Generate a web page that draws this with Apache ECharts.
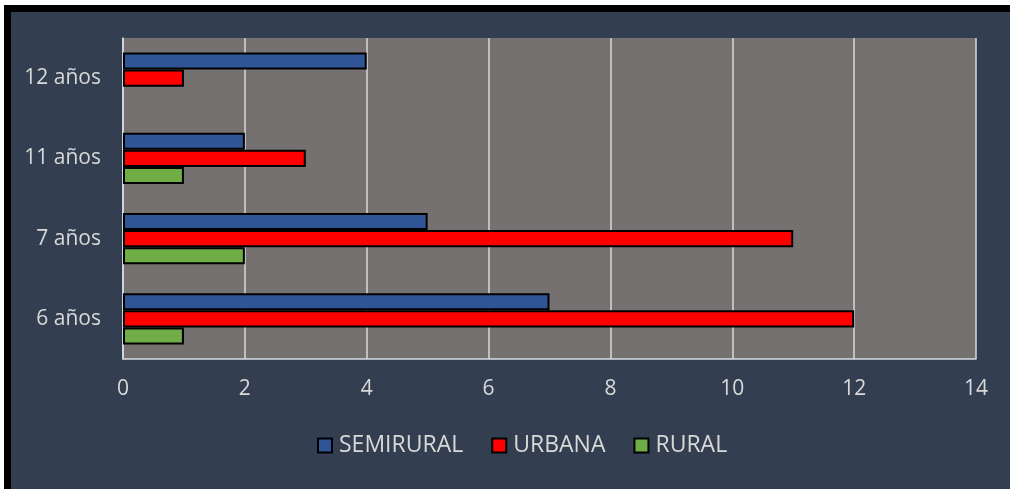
<!DOCTYPE html>
<html>
<head>
<meta charset="utf-8">
<script src="https://cdn.jsdelivr.net/npm/echarts@6/dist/echarts.min.js"></script>
<style>
  html, body { margin: 0; padding: 0; background: #ffffff; width: 1010px; height: 489px; overflow: hidden; }
  #frame {
    position: absolute; left: 4px; top: 5px; width: 1030px; height: 492px;
    box-sizing: border-box; border: 7px solid #000000; background: #333e50;
  }
  #chart { position: absolute; left: 0; top: 0; width: 1010px; height: 489px; }
</style>
</head>
<body>
<div id="frame"></div>
<div id="chart"></div>
<script>
// Ages shown on the vertical axis, bottom to top
const categories = ['6 años', '7 años', '11 años', '12 años'];
// Counts per area type
const semirural = [7, 5, 2, 4];
const urbana = [12, 11, 3, 1];
const rural = [1, 2, 1, 0];
const seriesNames = ['SEMIRURAL', 'URBANA', 'RURAL'];

const textColor = '#d9d9d9';
const font = '"Open Sans", "Liberation Sans", sans-serif';

const chart = echarts.init(document.getElementById('chart'), null, { renderer: 'canvas' });

const barStyle = (color) => ({ color: color, borderColor: '#000000', borderWidth: 2 });
// zero-length bars get no outline, so nothing shows for them
const withEmpty = (values) => values.map(v => v === 0 ? { value: v, itemStyle: { borderWidth: 0 } } : v);

chart.setOption({
  backgroundColor: 'transparent',
  animation: false,
  grid: { left: 123, right: 34, top: 38, bottom: 130, backgroundColor: '#767171', show: true, borderWidth: 0 },
  legend: {
    data: seriesNames,
    bottom: 27,
    left: 312,
    itemWidth: 14,
    itemHeight: 14,
    itemGap: 28,
    icon: 'rect',
    textStyle: { color: textColor, fontSize: 23, fontFamily: font, padding: [0, 0, 0, 2] },
    itemStyle: { borderColor: '#000000', borderWidth: 2 }
  },
  xAxis: {
    type: 'value',
    min: 0, max: 14, interval: 2,
    axisLine: { show: true, lineStyle: { color: '#d6dce5', width: 1.5 } },
    axisTick: { show: false },
    axisLabel: { color: textColor, fontSize: 21, fontFamily: font, margin: 20 },
    splitLine: { show: true, lineStyle: { color: '#d9d9d9', width: 1.5 } }
  },
  yAxis: {
    type: 'category',
    data: categories,
    axisLine: { show: true, lineStyle: { color: '#d6dce5', width: 1.5 } },
    axisTick: { show: false },
    axisLabel: { color: textColor, fontSize: 21, fontFamily: font, margin: 22 }
  },
  series: [
    { name: 'SEMIRURAL', type: 'bar', data: withEmpty(semirural), itemStyle: barStyle('#2f5597'), barGap: 0, barCategoryGap: '36%' },
    { name: 'URBANA', type: 'bar', data: withEmpty(urbana), itemStyle: barStyle('#ff0000'), barGap: 0, barCategoryGap: '36%' },
    { name: 'RURAL', type: 'bar', data: withEmpty(rural), itemStyle: barStyle('#70ad47'), barGap: 0, barCategoryGap: '36%' }
  ]
});
</script>
</body>
</html>
